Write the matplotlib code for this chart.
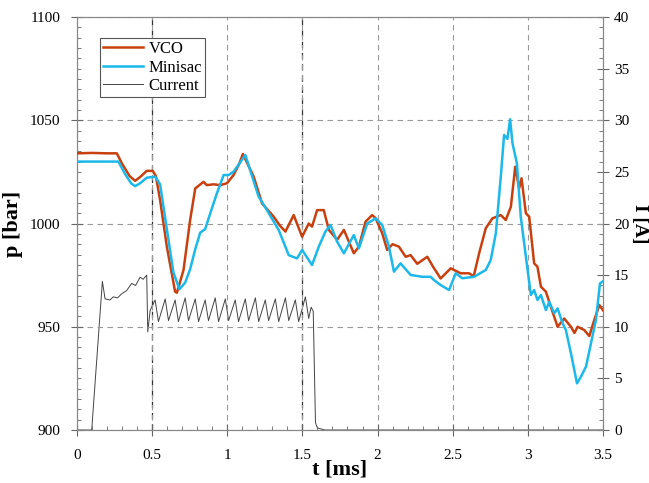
import numpy as np
import matplotlib
matplotlib.use('Agg')
import matplotlib.pyplot as plt
from matplotlib.ticker import MultipleLocator, FormatStrFormatter

plt.rcParams['font.family'] = ['Liberation Serif', 'DejaVu Serif']

# VCO pressure [bar] vs time [ms]
vco_t = [0.0, 0.10, 0.20, 0.265, 0.30, 0.35, 0.387, 0.42, 0.464, 0.504, 0.525, 0.553, 0.598,
         0.653, 0.665, 0.709, 0.753, 0.787, 0.842, 0.864, 0.91, 0.953, 0.998, 1.042, 1.08, 1.104,
         1.176, 1.231, 1.309, 1.35, 1.387, 1.442, 1.498, 1.542, 1.564, 1.598, 1.642, 1.676,
         1.731, 1.776, 1.842, 1.876, 1.92, 1.964, 1.987, 2.031, 2.064, 2.10, 2.142, 2.187,
         2.22, 2.264, 2.331, 2.37, 2.42, 2.487, 2.553, 2.609, 2.64, 2.676, 2.72, 2.764, 2.82,
         2.853, 2.887, 2.916, 2.942, 2.958, 2.987, 3.009, 3.042, 3.064, 3.087, 3.12, 3.153,
         3.198, 3.242, 3.287, 3.31, 3.331, 3.376, 3.409, 3.442, 3.476, 3.5]
vco_p = [1034.0, 1034.2, 1034.0, 1034.0, 1029.0, 1023.0, 1020.7, 1022.5, 1025.5, 1025.5, 1023.0, 1011.4, 988.8,
         967.0, 966.5, 977.5, 1001.7, 1017.0, 1020.2, 1018.6, 1019.0, 1018.6, 1019.5, 1023.5, 1029.0, 1033.7,
         1022.7, 1009.8, 1003.3, 999.0, 996.1, 1004.1, 993.6, 1000.0, 998.5, 1006.5, 1006.5, 996.9,
         992.1, 996.9, 985.6, 988.8, 1000.9, 1004.1, 1002.6, 995.3, 987.2, 990.0, 988.8, 983.9,
         984.7, 980.5, 983.9, 979.0, 973.4, 978.3, 975.9, 975.9, 974.5, 985.6, 997.7, 1002.5, 1004.1,
         1001.7, 1008.1, 1027.5, 1017.0, 1021.9, 1005.0, 1003.3, 980.7, 979.1, 969.4, 967.0, 959.7,
         950.0, 954.0, 950.0, 947.0, 950.0, 948.4, 945.5, 953.3, 960.5, 958.0]

# Minisac pressure [bar] vs time [ms]
mini_t = [0.0, 0.10, 0.20, 0.276, 0.32, 0.36, 0.387, 0.42, 0.464, 0.52, 0.553, 0.598, 0.642,
          0.682, 0.72, 0.753, 0.787, 0.82, 0.853, 0.887, 0.931, 0.976, 1.009, 1.042, 1.08, 1.12,
          1.209, 1.264, 1.342, 1.409, 1.464, 1.498, 1.564, 1.609, 1.653, 1.687, 1.731, 1.776,
          1.842, 1.876, 1.931, 1.987, 2.031, 2.076, 2.109, 2.153, 2.22, 2.298, 2.353, 2.376,
          2.42, 2.476, 2.52, 2.564, 2.642, 2.72, 2.753, 2.787, 2.82, 2.842, 2.864, 2.882, 2.898,
          2.927, 2.953, 2.987, 3.02, 3.042, 3.064, 3.087, 3.12, 3.142, 3.176, 3.198, 3.231,
          3.253, 3.287, 3.327, 3.353, 3.387, 3.42, 3.453, 3.48, 3.5]
mini_p = [1030.0, 1030.0, 1030.0, 1030.0, 1024.0, 1019.5, 1018.1, 1019.5, 1022.2, 1022.7, 1019.0, 997.3, 976.2,
          968.2, 971.4, 977.9, 987.6, 995.6, 997.3, 1005.0, 1014.6, 1023.5, 1023.5, 1025.1, 1029.0, 1033.2,
          1013.0, 1006.5, 996.9, 984.7, 983.1, 987.2, 979.9, 988.8, 996.1, 999.3, 991.2, 985.6,
          994.4, 988.0, 1000.0, 1002.5, 999.3, 988.8, 976.7, 980.7, 975.1, 974.2, 974.2, 972.6,
          970.2, 967.8, 975.9, 973.5, 974.2, 977.5, 982.3, 995.3, 1022.7, 1042.9, 1041.0, 1050.5, 1038.8,
          1029.2, 1003.3, 983.9, 965.4, 967.8, 963.0, 965.4, 958.1, 962.1, 956.5, 958.9, 951.7,
          948.4, 937.1, 922.6, 925.8, 930.7, 942.0, 953.3, 971.0, 972.0]

# Injector current [A] vs time [ms]
cur_t = [0.0, 0.098, 0.169, 0.187, 0.22, 0.242, 0.27, 0.298, 0.33, 0.364, 0.39, 0.42, 0.44,
         0.464, 0.471, 0.487, 0.52, 0.542, 0.587, 0.609, 0.653, 0.675, 0.72, 0.742, 0.787, 0.809,
         0.853, 0.875, 0.92, 0.942, 0.987, 1.009, 1.053, 1.075, 1.12, 1.142, 1.187, 1.209,
         1.253, 1.275, 1.32, 1.342, 1.387, 1.409, 1.453, 1.475, 1.52, 1.542, 1.558, 1.572,
         1.587, 1.60, 1.65, 3.5]
cur_I = [0.0, 0.0, 14.4, 12.7, 12.6, 12.9, 12.8, 13.2, 13.5, 14.2, 14.0, 14.8, 14.6,
         15.0, 9.5, 11.6, 12.6, 10.5, 12.7, 10.6, 12.6, 10.5, 12.8, 10.6, 12.7, 10.5,
         12.6, 10.6, 12.8, 10.5, 12.7, 10.6, 12.6, 10.5, 12.7, 10.6, 12.8, 10.5,
         12.6, 10.6, 12.7, 10.5, 12.8, 10.6, 12.6, 10.5, 12.9, 10.8, 11.9, 11.5,
         0.7, 0.2, 0.0, 0.0]

fig = plt.figure(figsize=(6.49, 4.83), dpi=100)
ax = fig.add_axes([0.1186, 0.1097, 0.8105, 0.855])
ax2 = ax.twinx()

ax.plot(vco_t, vco_p, color='#c8400f', lw=1.8, label='VCO', zorder=3)
ax.plot(mini_t, mini_p, color='#1cb8ea', lw=1.8, label='Minisac', zorder=3)
ax2.plot(cur_t, cur_I, color='#444444', lw=0.7, label='Current')

ax.set_xlim(0, 3.5)
ax.set_ylim(900, 1100)
ax2.set_ylim(0, 40)

ax.xaxis.set_major_locator(MultipleLocator(0.5))
ax.xaxis.set_minor_locator(MultipleLocator(0.1))
ax.xaxis.set_major_formatter(FormatStrFormatter('%g'))
ax.yaxis.set_major_locator(MultipleLocator(50))
ax.yaxis.set_minor_locator(MultipleLocator(5))
ax2.yaxis.set_major_locator(MultipleLocator(5))
ax2.yaxis.set_minor_locator(MultipleLocator(1))

for a in (ax, ax2):
    a.tick_params(which='minor', direction='in', length=3, color='#666666')
    a.tick_params(which='major', direction='inout', length=8, color='#666666', labelsize=11)
    for s in a.spines.values():
        s.set_color('#888888')
ax.tick_params(axis='x', which='major', pad=10)
ax.tick_params(axis='y', which='major', pad=8)
ax2.tick_params(axis='y', which='major', pad=4)

ax.grid(True, which='major', linestyle=(0, (5, 4)), color='#999999', lw=0.8)
for xv in (0.5, 1.5):
    ax.axvline(xv, color='#333333', linestyle=(0, (5, 4)), lw=0.9, zorder=1)

ax.set_xlabel('t [ms]', fontsize=16, fontweight='bold', labelpad=-2)
ax.set_ylabel('p [bar]', fontsize=16, fontweight='bold', labelpad=5)
ax2.set_ylabel('I [A]', fontsize=14, fontweight='bold', rotation=270, va='center')
ax2.yaxis.set_label_coords(1.07, 0.5)

ax.set_zorder(ax2.get_zorder() + 1)
ax.patch.set_visible(False)

h1, l1 = ax.get_legend_handles_labels()
h2, l2 = ax2.get_legend_handles_labels()
leg = ax.legend(h1 + h2, l1 + l2, loc='upper left', bbox_to_anchor=(0.028, 0.97),
                fontsize=12, fancybox=False, framealpha=1, edgecolor='#555555',
                handlelength=2.4, handletextpad=0.3, borderpad=0.2, labelspacing=0.15)
leg.get_frame().set_linewidth(0.8)

fig.savefig('out.png', dpi=100)
